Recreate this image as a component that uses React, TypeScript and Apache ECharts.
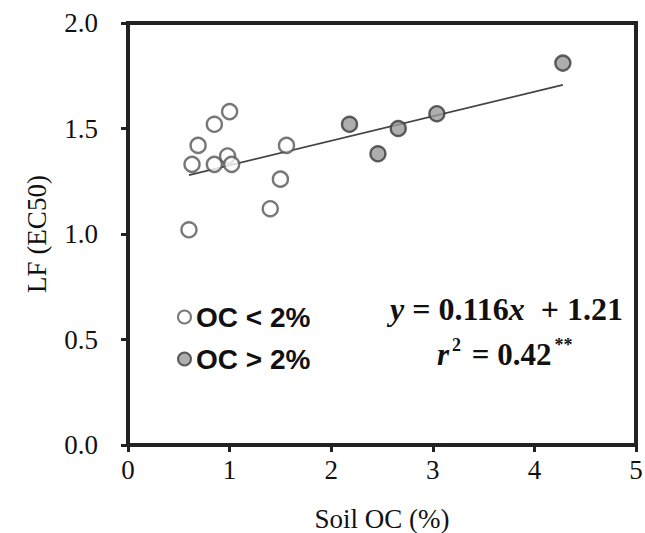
import React, { useEffect, useRef } from "react";
import * as echarts from "echarts";

const lowOC: [number, number][] = [
  [0.6, 1.02],
  [0.63, 1.33],
  [0.69, 1.42],
  [0.85, 1.52],
  [1.0, 1.58],
  [0.85, 1.33],
  [0.98, 1.37],
  [1.02, 1.33],
  [1.56, 1.42],
  [1.5, 1.26],
  [1.4, 1.12],
];
const highOC: [number, number][] = [
  [2.18, 1.52],
  [2.46, 1.38],
  [2.66, 1.5],
  [3.04, 1.57],
  [4.28, 1.81],
];
const slope = 0.116;
const intercept = 1.21;
const fitX = [0.6, 4.28];
const seriesNames = ["OC < 2%", "OC > 2%"];

const GRID = { left: 128, right: 9, top: 23, bottom: 88 };
const W = 645;
const H = 533;
const INK = "#222222";

export default function App() {
  const ref = useRef<HTMLDivElement>(null);
  useEffect(() => {
    const chart = echarts.init(ref.current!, null, { renderer: "svg" });
    const fitLine = fitX.map((x) => [x, +(slope * x + intercept).toFixed(4)]);
    const serif = "'Liberation Serif', 'Times New Roman', serif";
    const axisLine = () => ({ show: true, onZero: false, lineStyle: { color: INK, width: 4 } });
    const x0 = GRID.left;
    const y0 = GRID.top;
    const x1 = W - GRID.right;
    const y1 = H - GRID.bottom;
    chart.setOption({
      animation: false,
      backgroundColor: "#fff",
      grid: { ...GRID, outerBoundsMode: "none", containLabel: false },
      legend: {
        orient: "vertical",
        left: 172,
        top: 298,
        itemGap: 14,
        itemWidth: 13,
        itemHeight: 13,
        data: [
          { name: seriesNames[0], icon: "circle" },
          { name: seriesNames[1], icon: "circle" },
        ],
        textStyle: {
          fontFamily: "'Liberation Sans', Arial, sans-serif",
          fontWeight: "bold",
          fontSize: 28,
          color: "#111",
        },
      },
      xAxis: {
        type: "value",
        min: 0,
        max: 5,
        interval: 1,
        name: "Soil OC (%)",
        nameLocation: "middle",
        nameGap: 60,
        nameTextStyle: { fontFamily: serif, fontSize: 27, color: "#111" },
        axisLine: axisLine(),
        axisTick: { show: true, inside: false, length: 7, lineStyle: { color: INK, width: 3 } },
        axisLabel: { fontFamily: serif, fontSize: 27, color: "#111", margin: 11 },
        splitLine: { show: false },
      },
      yAxis: {
        type: "value",
        min: 0,
        max: 2,
        interval: 0.5,
        name: "LF (EC50)",
        nameLocation: "middle",
        nameGap: 78,
        nameRotate: 90,
        nameTextStyle: { fontFamily: serif, fontSize: 27, color: "#111" },
        axisLine: axisLine(),
        axisTick: { show: true, inside: false, length: 7, lineStyle: { color: INK, width: 3 } },
        axisLabel: {
          fontFamily: serif,
          fontSize: 27,
          color: "#111",
          margin: 30,
          formatter: (v: number) => v.toFixed(1),
        },
        splitLine: { show: false },
      },
      series: [
        {
          name: seriesNames[0],
          type: "scatter",
          data: lowOC,
          symbol: "circle",
          symbolSize: 15,
          itemStyle: { color: "#fff", borderColor: "#555", borderWidth: 2.4 },
          z: 3,
        },
        {
          name: seriesNames[1],
          type: "scatter",
          data: highOC,
          symbol: "circle",
          symbolSize: 15,
          itemStyle: { color: "#9a9a9a", borderColor: "#3a3a3a", borderWidth: 2.4 },
          z: 3,
        },
        {
          name: "fit",
          type: "line",
          data: fitLine,
          symbol: "none",
          lineStyle: { color: "#444", width: 1.8 },
          z: 2,
          silent: true,
        },
      ],
      graphic: [
        {
          type: "rect",
          silent: true,
          z: 50,
          shape: { x: x0, y: y0, width: x1 - x0, height: y1 - y0 },
          style: { fill: "transparent", stroke: INK, lineWidth: 4 },
        },
        {
          type: "text",
          left: 390,
          top: 293,
          style: {
            text: "{i|y} = 0.116{i|x}  + 1.21",
            fontFamily: serif,
            fontWeight: "bold",
            fontSize: 32,
            fill: "#111",
            rich: {
              i: { fontFamily: serif, fontStyle: "italic", fontWeight: "bold", fontSize: 32, fill: "#111" },
            },
          },
        },
        {
          type: "text",
          left: 437,
          top: 336,
          style: {
            text: "{i|r}{s|2} = 0.42{s|**}",
            fontFamily: serif,
            fontWeight: "bold",
            fontSize: 31,
            fill: "#111",
            rich: {
              i: { fontFamily: serif, fontStyle: "italic", fontWeight: "bold", fontSize: 31, fill: "#111" },
              s: { fontFamily: serif, fontWeight: "bold", fontSize: 18, fill: "#111", verticalAlign: "top", padding: [0, 3, 18, 3] },
            },
          },
        },
      ],
    });
    return () => chart.dispose();
  }, []);
  return (
    <div
      ref={ref}
      style={{ position: "fixed", left: 0, top: 0, width: W, height: H }}
    />
  );
}
